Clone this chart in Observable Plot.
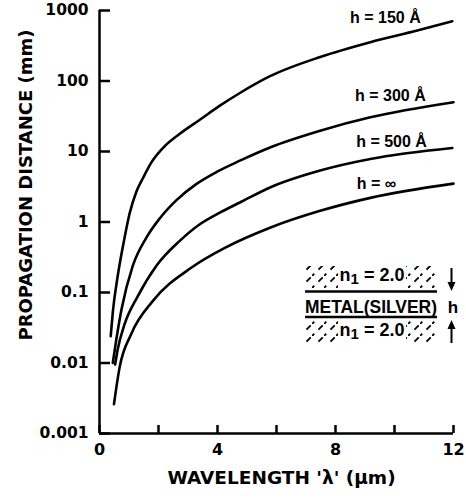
<!DOCTYPE html>
<html><head><meta charset="utf-8">
<script src="https://cdn.jsdelivr.net/npm/d3@7"></script>
<script src="https://cdn.jsdelivr.net/npm/@observablehq/plot@0.6"></script>
<style>body{margin:0;background:#fff}</style>
</head><body><div id="chart"></div>
<script>
const seriesNames = ["h = 150 Å", "h = 300 Å", "h = 500 Å", "h = ∞"];
const x150 = [0.38, 0.45, 0.62, 0.85, 1.02, 1.25, 1.47, 1.75, 2.15, 2.72, 3.40, 4.08, 4.76, 5.78, 7.48, 9.18, 10.77, 11.96];
const y150 = [0.024, 0.052, 0.174, 0.60, 1.32, 2.69, 4.17, 6.9, 11.2, 17.8, 28.2, 44.7, 67.6, 117, 219, 355, 520, 705];
const x300 = [0.45, 0.55, 0.74, 1.13, 1.59, 2.04, 2.61, 3.29, 3.97, 4.76, 5.78, 7.48, 9.18, 12.0];
const y300 = [0.010, 0.019, 0.056, 0.24, 0.60, 1.12, 2.04, 3.47, 5.13, 7.41, 11.4, 19.7, 30.5, 50];
const x500 = [0.53, 0.62, 0.85, 1.30, 1.93, 2.72, 3.40, 4.08, 4.76, 5.78, 7.48, 9.18, 11.96];
const y500 = [0.0095, 0.0158, 0.0355, 0.089, 0.24, 0.54, 0.93, 1.36, 1.89, 3.09, 5.37, 7.82, 11.2];
const xInf = [0.49, 0.68, 1.08, 1.81, 3.12, 4.25, 5.78, 7.48, 9.18, 12.0];
const yInf = [0.0026, 0.0086, 0.026, 0.076, 0.226, 0.43, 0.83, 1.44, 2.2, 3.5];

const xTicks = [0, 2, 4, 6, 8, 10, 12];
const xTickLabels = ["0", "", "4", "", "8", "", "12"];
const yTicks = [0.001, 0.01, 0.1, 1, 10, 100, 1000];
const yTickLabels = ["0.001", "0.01", "0.1", "1", "10", "100", "1000"];
const labelX = [9.69, 9.86, 9.9, 9.39];
const labelY = [794, 62, 13.8, 3.5];
const xTitle = "WAVELENGTH 'λ' (μm)";
const yTitle = "PROPAGATION DISTANCE (mm)";

const allX = [x150, x300, x500, xInf];
const allY = [y150, y300, y500, yInf];
const rows = allX.flatMap((xs, s) => xs.map((x, i) => ({series: seriesNames[s], x, y: allY[s][i]})));
const labels = seriesNames.map((t, i) => ({t, x: labelX[i], y: labelY[i]}));
const xFmt = new Map(xTicks.map((d, i) => [d, xTickLabels[i]]));
const yFmt = new Map(yTicks.map((d, i) => [d, yTickLabels[i]]));

const chart = Plot.plot({
  width: 466, height: 499,
  marginLeft: 99, marginRight: 13, marginTop: 10, marginBottom: 66,
  x: {domain: [0, 12]},
  y: {type: "log", domain: [0.001, 1000]},
  style: {fontFamily: "DejaVu Sans", fontWeight: "bold", color: "black", background: "white", overflow: "visible"},
  marks: [
    Plot.axisX({ticks: xTicks, tickSize: -8, tickPadding: 18, strokeWidth: 2.5, tickFormat: d => xFmt.get(d), fontSize: 16, label: null}),
    Plot.axisY({ticks: yTicks, tickSize: -11, tickPadding: 22, strokeWidth: 2.5, tickFormat: d => yFmt.get(d), fontSize: 15.5, label: null}),
    Plot.ruleX([0], {strokeWidth: 2.5}),
    Plot.ruleY([0.001], {strokeWidth: 2.5}),
    Plot.line(rows, {x: "x", y: "y", z: "series", curve: "monotone-x", strokeWidth: 2.6, stroke: "black"}),
    Plot.text(labels, {x: "x", y: "y", text: "t", fontSize: 16, fontFamily: "Liberation Sans"}),
    Plot.text([xTitle], {frameAnchor: "bottom", dx: 5, dy: 50, fontSize: 18.5}),
    Plot.text([yTitle], {frameAnchor: "left", textAnchor: "middle", dx: -73, dy: -37, rotate: -90, fontSize: 18})
  ]
});
document.getElementById("chart").appendChild(chart);

// Inset diagram (layer structure)
const svg = d3.select(chart);
const defs = svg.append("defs");
const pat = defs.append("pattern").attr("id", "hatch").attr("patternUnits", "userSpaceOnUse")
  .attr("width", 12).attr("height", 12);
pat.append("path").attr("d", "M-2,14 L14,-2").attr("stroke", "black").attr("stroke-width", 1.8)
  .attr("stroke-dasharray", "6 6");
const g = svg.append("g").attr("font-family", "Liberation Sans").attr("font-weight", "bold").attr("fill", "black");
g.append("rect").attr("x", 306).attr("y", 266).attr("width", 130).attr("height", 23).attr("fill", "url(#hatch)");
g.append("rect").attr("x", 306).attr("y", 320).attr("width", 130).attr("height", 22).attr("fill", "url(#hatch)");
g.append("rect").attr("x", 338).attr("y", 264).attr("width", 68).attr("height", 26).attr("fill", "white");
g.append("rect").attr("x", 338).attr("y", 319).attr("width", 68).attr("height", 24).attr("fill", "white");
g.append("line").attr("x1", 305).attr("x2", 437).attr("y1", 291.5).attr("y2", 291.5).attr("stroke", "black").attr("stroke-width", 2.5);
g.append("line").attr("x1", 305).attr("x2", 437).attr("y1", 317).attr("y2", 317).attr("stroke", "black").attr("stroke-width", 2.5);
function nText(y) {
  const t = g.append("text").attr("x", 372).attr("y", y).attr("text-anchor", "middle").attr("font-size", 18);
  t.append("tspan").text("n");
  t.append("tspan").attr("dy", 3).attr("font-size", 15).text("1");
  t.append("tspan").attr("dy", -3).text(" = 2.0");
}
nText(281);
nText(336);
g.append("text").attr("x", 371).attr("y", 313).attr("text-anchor", "middle").attr("font-size", 17.5)
  .attr("textLength", 132).attr("lengthAdjust", "spacingAndGlyphs").text("METAL(SILVER)");
g.append("text").attr("x", 453).attr("y", 313).attr("text-anchor", "middle").attr("font-size", 17).text("h");
g.append("line").attr("x1", 451.5).attr("x2", 451.5).attr("y1", 268).attr("y2", 283).attr("stroke", "black").attr("stroke-width", 2);
g.append("path").attr("d", "M447.5,282 L455.5,282 L451.5,291 Z");
g.append("line").attr("x1", 451.5).attr("x2", 451.5).attr("y1", 328).attr("y2", 343).attr("stroke", "black").attr("stroke-width", 2);
g.append("path").attr("d", "M447.5,329 L455.5,329 L451.5,320 Z");
</script>
</body></html>
